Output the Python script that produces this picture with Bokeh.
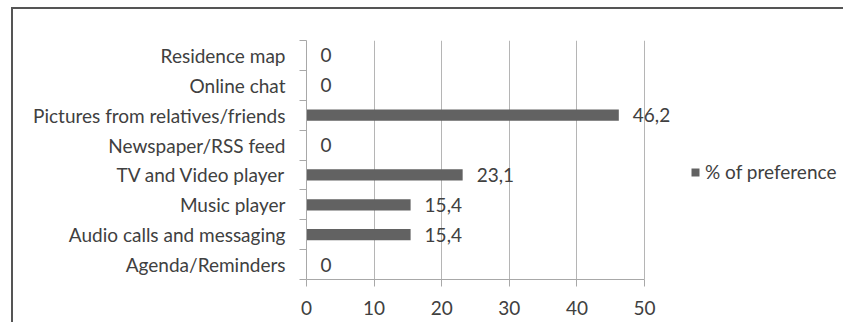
from bokeh.plotting import figure
from bokeh.models import Range1d, FixedTicker, Legend, LegendItem, ColumnDataSource, LabelSet
from bokeh.core.properties import value
from bokeh.embed import file_html
from bokeh.resources import INLINE

categories = ["Agenda/Reminders", "Audio calls and messaging", "Music player",
              "TV and Video player", "Newspaper/RSS feed",
              "Pictures from relatives/friends", "Online chat", "Residence map"]
values = [0, 15.4, 15.4, 23.1, 0, 46.2, 0, 0]
x_ticks = [0, 10, 20, 30, 40, 50]
series_name = "% of preference"

FONT = "Lato"
TXT = "#404040"
FS = "19px"

n = len(categories)
ypos = [i + 0.5 for i in range(n)]
labels = [f"{v:g}".replace(".", ",") for v in values]
src = ColumnDataSource(dict(y=ypos, v=values, lab=labels))

# frame spans to the right edge so labels/legend are not clipped;
# the axis itself is bounded to 0..50
axis_px = 338
frame_px = 539
x_max = x_ticks[-1] * frame_px / axis_px

p = figure(width=832, height=315, output_backend="svg", toolbar_location=None,
           x_range=Range1d(0, x_max), y_range=Range1d(0, n),
           min_border_left=293, min_border_right=0, min_border_top=31,
           min_border_bottom=45)
p.styles = {"margin-left": "11px", "margin-top": "7px",
            "border-left": "2px solid #555", "border-top": "2px solid #555"}
p.outline_line_color = None
p.background_fill_color = "white"

bars = p.hbar(y="y", right="v", left=0, height=0.38, source=src,
              fill_color="#626262", line_color=None)
p.add_layout(LabelSet(x="v", y="y", text="lab", source=src, x_offset=14,
                      text_baseline="middle", text_align="left",
                      text_font=value(FONT), text_font_size=value(FS),
                      text_color=value(TXT)))

# x axis
p.xaxis.ticker = FixedTicker(ticks=x_ticks)
p.xaxis.bounds = (x_ticks[0], x_ticks[-1])
p.xaxis.axis_line_color = "#a8a8a8"
p.xaxis.major_tick_line_color = "#a8a8a8"
p.xaxis.major_tick_out = 7
p.xaxis.major_tick_in = 0
p.xaxis.minor_tick_line_color = None
p.xaxis.major_label_standoff = 14
p.xaxis.major_label_text_font = FONT
p.xaxis.major_label_text_font_size = FS
p.xaxis.major_label_text_color = TXT

# y axis
p.yaxis.ticker = FixedTicker(ticks=ypos, minor_ticks=list(range(n + 1)))
p.yaxis.major_label_overrides = {y: c for y, c in zip(ypos, categories)}
p.yaxis.axis_line_color = "#a8a8a8"
p.yaxis.major_tick_line_color = None
p.yaxis.minor_tick_line_color = "#a8a8a8"
p.yaxis.minor_tick_out = 7
p.yaxis.minor_tick_in = 0
p.yaxis.major_label_standoff = 14
p.yaxis.major_label_text_font = FONT
p.yaxis.major_label_text_font_size = FS
p.yaxis.major_label_text_color = TXT

p.xgrid.grid_line_color = "#b5b5b5"
p.ygrid.grid_line_color = None

legend = Legend(items=[LegendItem(label=series_name, renderers=[bars])],
                location=(384, 96), orientation="vertical",
                glyph_width=10, glyph_height=10, label_standoff=5,
                padding=0, margin=0, border_line_color=None,
                background_fill_alpha=0, label_text_font=FONT,
                label_text_font_size=FS, label_text_color=TXT)
p.add_layout(legend, "center")

open("out.html", "w").write(file_html(p, INLINE))
